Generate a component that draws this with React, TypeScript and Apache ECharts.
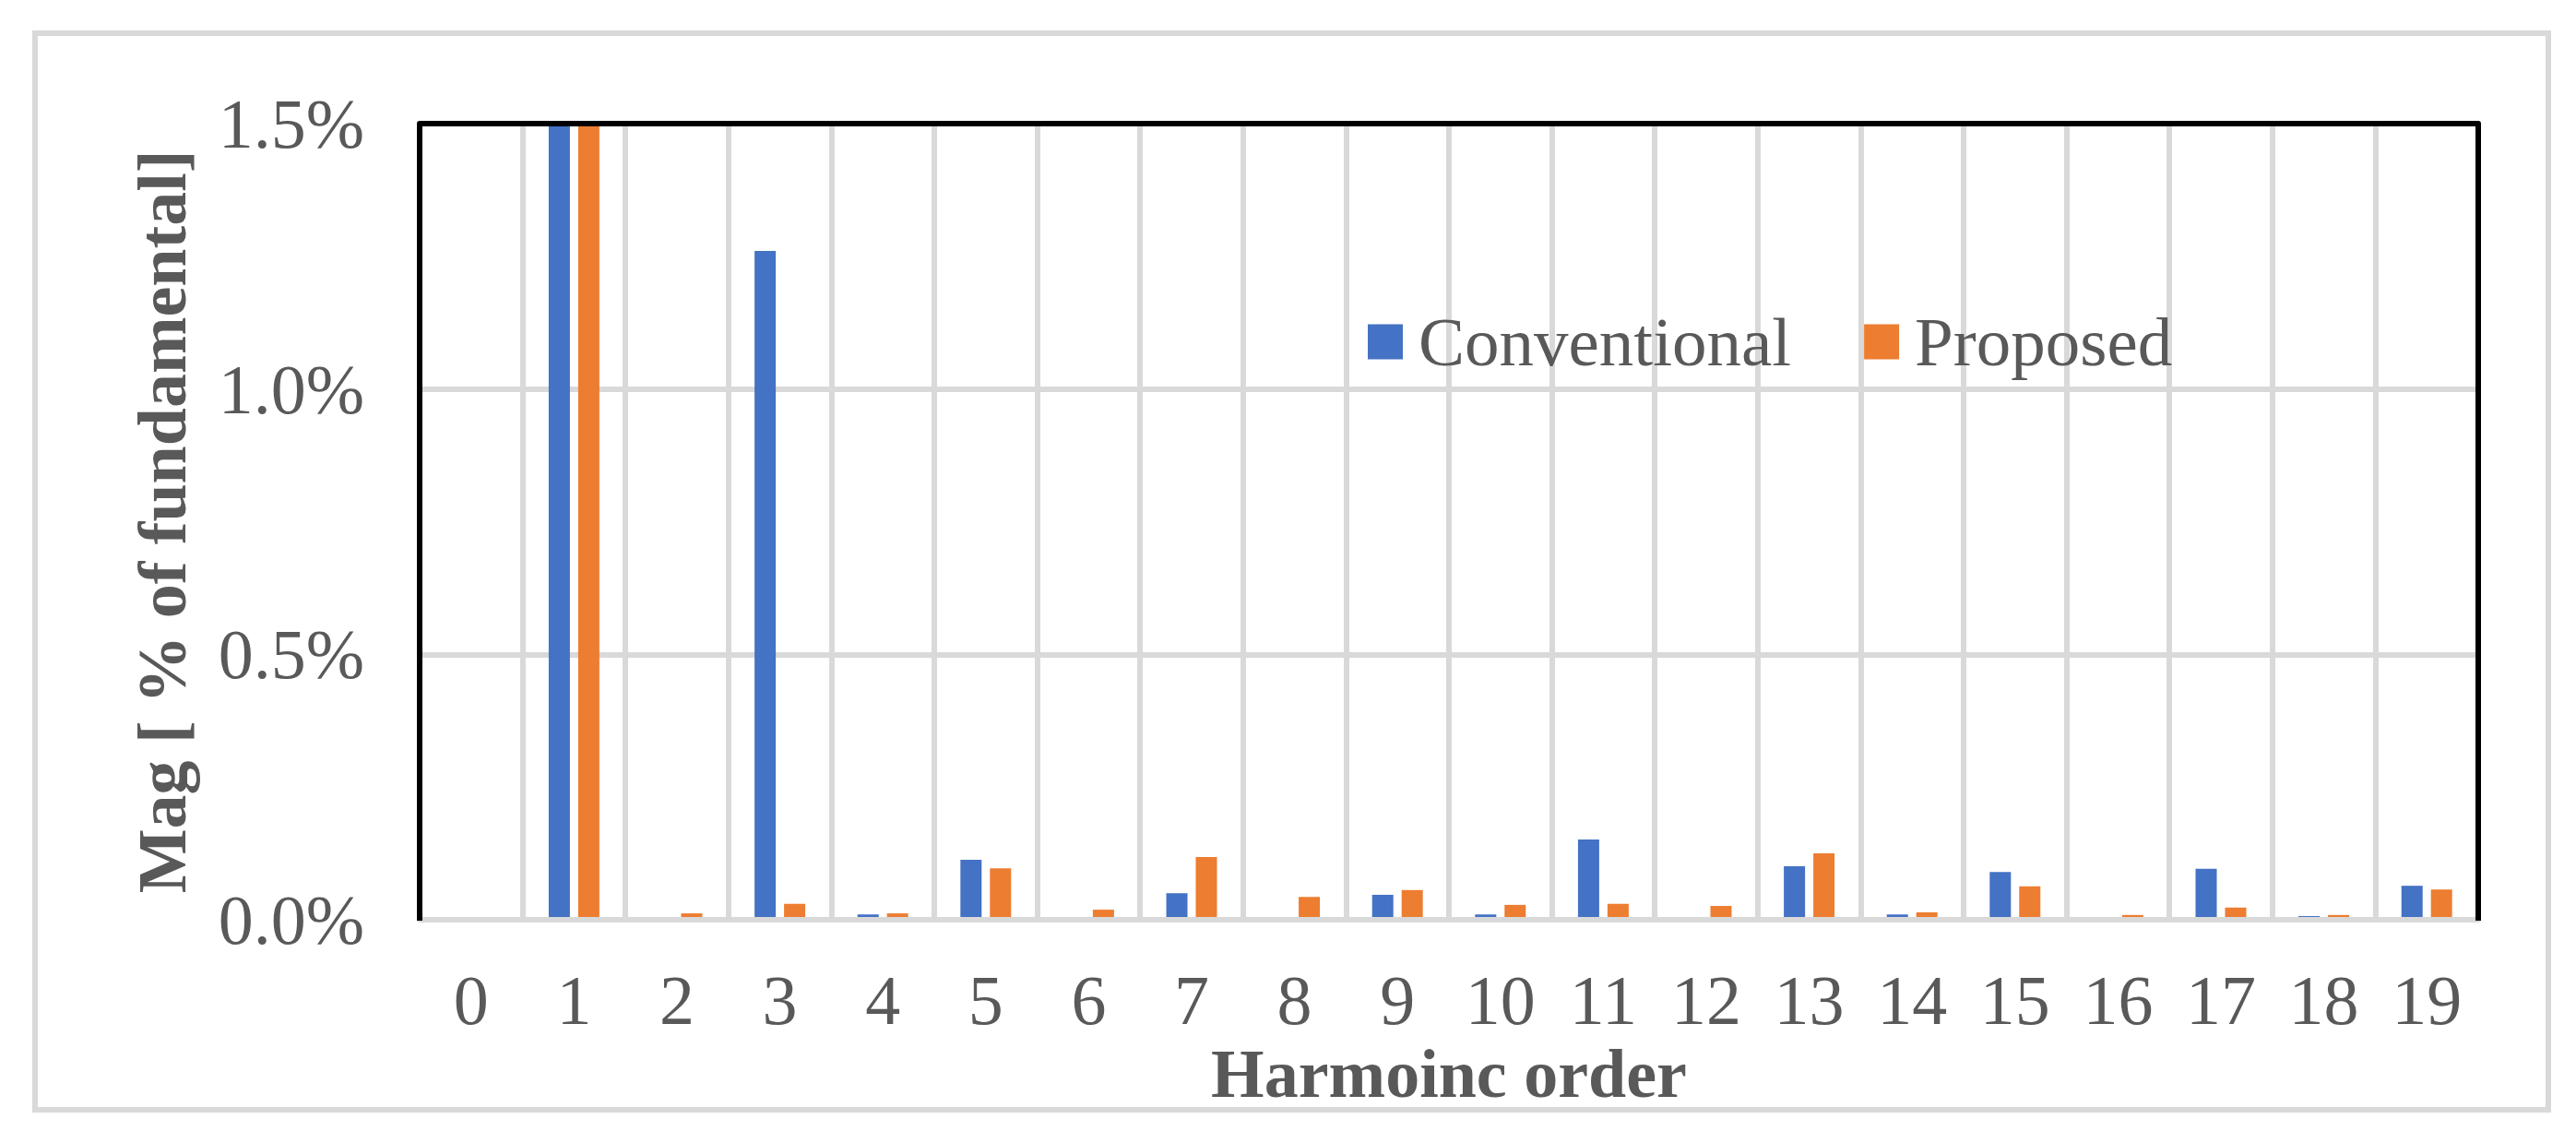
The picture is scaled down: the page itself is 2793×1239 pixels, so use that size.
import React, { useEffect, useRef } from "react";
import * as echarts from "echarts";

const categories = ["0", "1", "2", "3", "4", "5", "6", "7", "8", "9", "10", "11", "12", "13", "14", "15", "16", "17", "18", "19"];
const conventional = [0, 100, 0, 1.26, 0.01, 0.113, 0, 0.05, 0, 0.047, 0.01, 0.151, 0, 0.101, 0.01, 0.09, 0, 0.096, 0.007, 0.064];
const proposed = [0, 100, 0.012, 0.03, 0.012, 0.097, 0.019, 0.118, 0.043, 0.056, 0.028, 0.03, 0.026, 0.125, 0.014, 0.063, 0.009, 0.023, 0.009, 0.057];
const seriesNames = ["Conventional", "Proposed"];
const yTicks = { min: 0, max: 1.5, interval: 0.5 };

const W = 2793;
const H = 1239;
const GRID = { left: 455, right: 106, top: 134, bottom: 242 };
const FONT = "'Liberation Serif', 'Times New Roman', serif";
const TXT = "#595959";
const GRIDC = "#d9d9d9";

export default function App() {
  const ref = useRef<HTMLDivElement>(null);
  useEffect(() => {
    document.body.style.margin = "0";
    const chart = echarts.init(ref.current!, null, { renderer: "svg" });
    const gl = GRID.left;
    const gr = W - GRID.right;
    const gt = GRID.top;
    const gb = H - GRID.bottom;
    chart.setOption({
      animation: false,
      backgroundColor: "#ffffff",
      grid: { ...GRID, show: false },
      legend: {
        data: seriesNames,
        left: 1483,
        top: 333,
        padding: 0,
        icon: "rect",
        itemWidth: 38,
        itemHeight: 38,
        itemGap: 79,
        textStyle: { fontFamily: FONT, fontSize: 75, color: TXT, padding: [0, 0, 0, 12] },
      },
      xAxis: {
        type: "category",
        data: categories,
        z: 3,
        name: "Harmoinc order",
        nameLocation: "middle",
        nameGap: 116,
        nameTextStyle: { fontFamily: FONT, fontSize: 74, fontWeight: "bold", color: TXT },
        axisLine: { show: true, lineStyle: { color: GRIDC, width: 6 } },
        axisTick: { show: false },
        axisLabel: { interval: 0, margin: 49, fontFamily: FONT, fontSize: 76, color: TXT },
        splitLine: { show: true, interval: 0, lineStyle: { color: GRIDC, width: 6 } },
      },
      yAxis: {
        type: "value",
        min: yTicks.min,
        max: yTicks.max,
        interval: yTicks.interval,
        name: "Mag [ % of fundamental]",
        nameLocation: "middle",
        nameGap: 242,
        nameTextStyle: { fontFamily: FONT, fontSize: 74, fontWeight: "bold", color: TXT },
        axisLine: { show: false },
        axisTick: { show: false },
        axisLabel: {
          margin: 60,
          fontFamily: FONT,
          fontSize: 76,
          color: TXT,
          formatter: (v: number) => v.toFixed(1) + "%",
        },
        splitLine: { show: true, lineStyle: { color: GRIDC, width: 6 } },
      },
      series: [
        {
          name: seriesNames[0],
          type: "bar",
          data: conventional,
          barWidth: 23,
          barGap: "39%",
          clip: true,
          itemStyle: { color: "#4472C4" },
        },
        {
          name: seriesNames[1],
          type: "bar",
          data: proposed,
          barWidth: 23,
          barGap: "39%",
          clip: true,
          itemStyle: { color: "#ED7D31" },
        },
      ],
      graphic: [
        {
          type: "rect",
          z: 100,
          silent: true,
          shape: { x: 38, y: 36, width: 2763 - 38, height: 1203 - 36 },
          style: { fill: "none", stroke: GRIDC, lineWidth: 6 },
        },
        {
          type: "polyline",
          z: 100,
          silent: true,
          shape: { points: [[gl, gb + 1], [gl, gt], [gr, gt], [gr, gb + 1]] },
          style: { fill: "none", stroke: "#000000", lineWidth: 6, lineJoin: "round" },
        },
      ],
    });
    return () => chart.dispose();
  }, []);
  return (
    <div
      ref={ref}
      style={{ position: "absolute", left: 0, top: 0, width: W, height: H, background: "#fff" }}
    />
  );
}
